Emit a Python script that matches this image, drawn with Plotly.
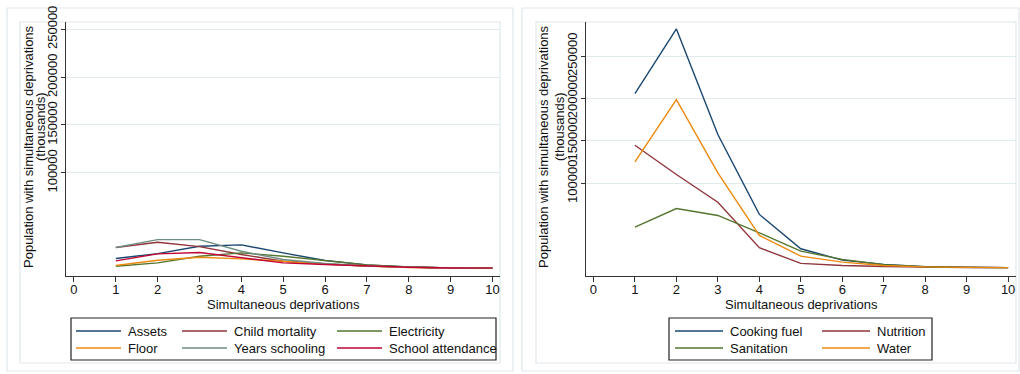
import plotly.graph_objects as go

W, H = 1020, 374

x_vals = [1, 2, 3, 4, 5, 6, 7, 8, 9, 10]

# Left panel series (population, thousands)
assets = [10400, 15600, 23200, 24700, 16300, 8300, 3800, 1500, 500, 400]
child_mortality = [21900, 27400, 22900, 14600, 7600, 4700, 2600, 1300, 500, 400]
electricity = [2400, 5900, 12800, 16300, 12800, 8300, 3800, 1500, 500, 400]
floor_ = [3100, 8600, 11800, 10100, 7600, 4700, 2600, 1000, 500, 400]
years_schooling = [21900, 30200, 30200, 18000, 9400, 5200, 2600, 1300, 500, 400]
school_attendance = [8000, 15300, 16700, 11100, 5900, 4200, 2600, 1300, 500, 400]

# Right panel series
cooking_fuel = [205900, 282300, 157400, 63000, 22400, 9000, 3900, 1200, 500, 100]
nutrition = [144800, 110200, 77500, 23600, 5100, 2700, 1500, 700, 300, 100]
sanitation = [47900, 70000, 61800, 41300, 19600, 9800, 3500, 1200, 400, 100]
water = [125200, 198800, 112200, 38100, 13700, 6600, 2700, 1000, 400, 100]

x_ticks = [0, 1, 2, 3, 4, 5, 6, 7, 8, 9, 10]
y_ticks = [100000, 150000, 200000, 250000]
y_ticklabels = ["100000", "150000", "200000", "250000"]

x_title = "Simultaneous deprivations"
y_title_1 = "Population with simultaneous deprivations"
y_title_2 = "(thousands)"

NAVY = "#1a476f"
MAROON = "#90353b"
GREEN = "#55752f"
ORANGE = "#ec8a10"
TEAL = "#6e8e84"
CRAN = "#c10534"

# (name, values, colour, legend row, legend column)
left_series = [
    ("Assets", assets, NAVY, 0, 0),
    ("Child mortality", child_mortality, MAROON, 0, 1),
    ("Electricity", electricity, GREEN, 0, 2),
    ("Floor", floor_, ORANGE, 1, 0),
    ("Years schooling", years_schooling, TEAL, 1, 1),
    ("School attendance", school_attendance, CRAN, 1, 2),
]
right_series = [
    ("Cooking fuel", cooking_fuel, NAVY, 0, 0),
    ("Nutrition", nutrition, MAROON, 0, 1),
    ("Sanitation", sanitation, GREEN, 1, 0),
    ("Water", water, ORANGE, 1, 1),
]

FONT = "Liberation Sans, Arial, sans-serif"
TXT = "#111111"
AX = "#333333"
GRID = "#e1eaed"
FRAME = "#dfe8eb"
FS = 13

fig = go.Figure()
for name, vals, col, r, c in left_series:
    fig.add_trace(go.Scatter(x=x_vals, y=vals, mode="lines", name=name,
                             line=dict(color=col, width=1.4), xaxis="x", yaxis="y"))
for name, vals, col, r, c in right_series:
    fig.add_trace(go.Scatter(x=x_vals, y=vals, mode="lines", name=name,
                             line=dict(color=col, width=1.4), xaxis="x2", yaxis="y2"))


def px(x):
    return x / W


def py(y):
    return 1 - y / H


y_top, y_bot = 22, 276
xaxis_common = dict(
    tickvals=x_ticks, ticks="outside", ticklen=5, tickcolor=AX, tickwidth=1,
    showline=True, linecolor=AX, linewidth=1, showgrid=False, zeroline=False,
    tickfont=dict(size=FS, color=TXT, family=FONT), automargin=False,
    ticklabelstandoff=-4,
)
yaxis_common = dict(
    tickvals=y_ticks, ticktext=y_ticklabels, ticks="outside", ticklen=4, tickcolor=AX,
    tickangle=-90, showline=True, linecolor=AX, linewidth=1,
    showgrid=True, gridcolor=GRID, gridwidth=1, zeroline=False,
    tickfont=dict(size=FS, color=TXT, family=FONT), automargin=False,
    ticklabelstandoff=-1,
)

fig.update_layout(
    width=W, height=H, margin=dict(l=0, r=0, t=0, b=0),
    paper_bgcolor="white", plot_bgcolor="white",
    font=dict(family=FONT, size=FS, color=TXT),
    showlegend=False,
    xaxis=dict(domain=[px(66), px(500)], range=[-0.19, 10.18], anchor="y", **xaxis_common),
    yaxis=dict(domain=[py(y_bot), py(y_top)], range=[-7830, 257600], anchor="x", **yaxis_common),
    xaxis2=dict(domain=[px(586), px(1016)], range=[-0.18, 10.19], anchor="y2", **xaxis_common),
    yaxis2=dict(domain=[py(y_bot), py(y_top)], range=[-9800, 290500], anchor="x2", **yaxis_common),
)

shapes = []
annotations = []
# outer and inner frames of each panel
for (ox0, ox1, ix0, ix1) in [(7, 513, 20, 500), (522, 1019, 536, 1016)]:
    shapes.append(dict(type="rect", xref="paper", yref="paper", x0=px(ox0), x1=px(ox1), y0=py(371), y1=py(8),
                       line=dict(color=FRAME, width=1.2), layer="below"))
    shapes.append(dict(type="rect", xref="paper", yref="paper", x0=px(ix0), x1=px(ix1), y0=py(363), y1=py(22),
                       line=dict(color=FRAME, width=1.2), layer="below"))

# axis titles
for cx, cx2, xc in [(28, 40, 283), (543, 559, 801)]:
    annotations.append(dict(text=y_title_1, textangle=-90, xref="paper", yref="paper",
                            x=px(cx), y=py(147), showarrow=False,
                            font=dict(size=FS, family=FONT, color=TXT), xanchor="center", yanchor="middle"))
    annotations.append(dict(text=y_title_2, textangle=-90, xref="paper", yref="paper",
                            x=px(cx2), y=py(127), showarrow=False,
                            font=dict(size=FS, family=FONT, color=TXT), xanchor="center", yanchor="middle"))
    annotations.append(dict(text=x_title, xref="paper", yref="paper",
                            x=px(xc), y=py(304), showarrow=False,
                            font=dict(size=FS, family=FONT, color=TXT), xanchor="center", yanchor="middle"))

# legends (key boxes)
legend_specs = [
    (left_series, (71, 496), [76, 182, 337], 45),
    (right_series, (669, 932), [675, 822], 48),
]
row_y = [331, 348]
for series, (bx0, bx1), col_x, seg in legend_specs:
    shapes.append(dict(type="rect", xref="paper", yref="paper", x0=px(bx0), x1=px(bx1), y0=py(360), y1=py(318),
                       line=dict(color="#222222", width=1.2), fillcolor="white"))
    for name, vals, col, r, c in series:
        y = row_y[r]
        x0 = col_x[c]
        shapes.append(dict(type="line", xref="paper", yref="paper", x0=px(x0), x1=px(x0 + seg),
                           y0=py(y), y1=py(y), line=dict(color=col, width=1.4)))
        annotations.append(dict(text=name, xref="paper", yref="paper", x=px(x0 + seg + 5), y=py(y),
                                showarrow=False, xanchor="left", yanchor="middle",
                                font=dict(size=FS, family=FONT, color=TXT)))

fig.update_layout(shapes=shapes, annotations=annotations)

fig.write_html("out.html")
